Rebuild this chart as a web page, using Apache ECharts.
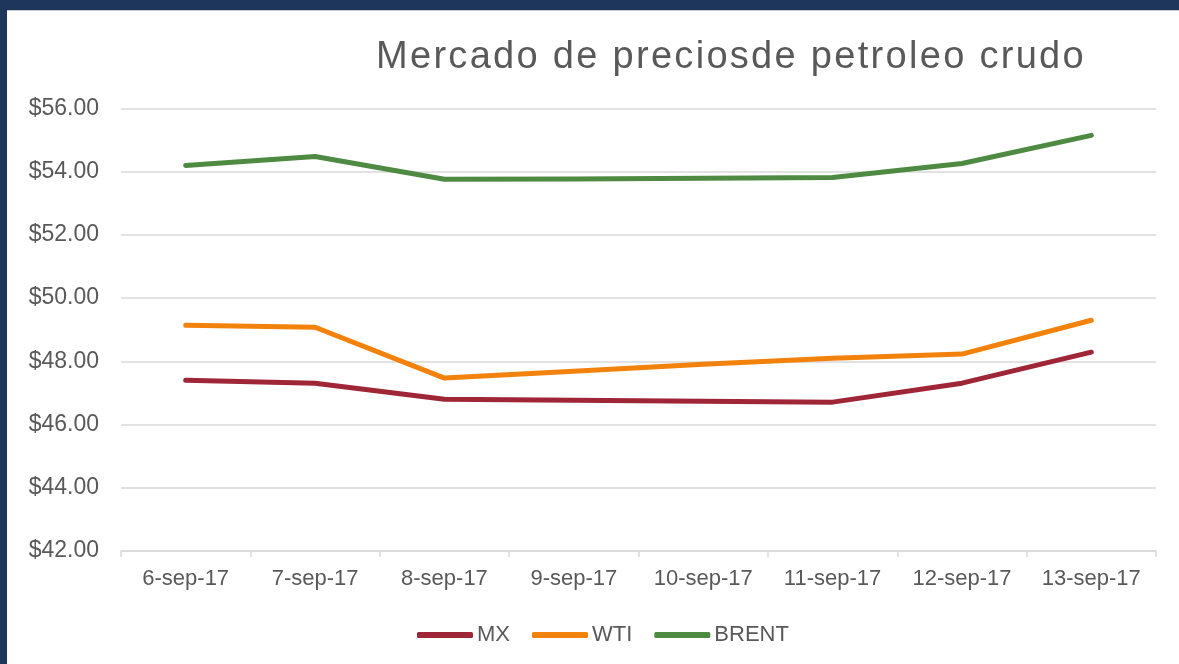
<!DOCTYPE html>
<html>
<head>
<meta charset="utf-8">
<script src="https://cdn.jsdelivr.net/npm/echarts@6/dist/echarts.min.js"></script>
<style>
  html, body { margin: 0; padding: 0; }
  body { width: 1179px; height: 664px; background: #1f365c; position: relative; overflow: hidden; }
  #wrap { position: absolute; left: 7px; top: 10px; width: 1172px; height: 654px; background: #fff; border-top: 1px solid #c9ccd3; box-sizing: border-box; }
  #chart { position: absolute; left: 0; top: -1px; width: 1172px; height: 654px; }
  #title { position: absolute; left: 0; right: 0; top: 23px; text-align: center; padding-left: 276px;
           font-family: "Liberation Sans", Arial, sans-serif; font-size: 38px; letter-spacing: 2.3px; color: #595959; z-index: 2; pointer-events: none; white-space: nowrap; }
</style>
</head>
<body>
<div id="wrap">
  <div id="title">Mercado de preciosde petroleo crudo</div>
  <div id="chart"></div>
</div>
<script>
// datos
var fechas = ['6-sep-17', '7-sep-17', '8-sep-17', '9-sep-17', '10-sep-17', '11-sep-17', '12-sep-17', '13-sep-17'];
var mx    = [47.40, 47.31, 46.80, 46.77, 46.74, 46.71, 47.31, 48.29];
var wti   = [49.14, 49.08, 47.47, 47.69, 47.91, 48.10, 48.23, 49.30];
var brent = [54.20, 54.48, 53.76, 53.77, 53.79, 53.82, 54.26, 55.15];

var chart = echarts.init(document.getElementById('chart'));

var linea = function(nombre, datos, color){
    return {
        name: nombre,
        type: 'line',
        data: datos,
        symbol: 'none',
        smooth: false,
        lineStyle: { color: color, width: 5, cap: 'round', join: 'round' },
        itemStyle: { color: color }
    };
};

var option = {
    backgroundColor: 'transparent',
    textStyle: { fontFamily: '"Liberation Sans", Arial, sans-serif' },
    grid: { left: 114, right: 23, top: 98.5, bottom: 113, containLabel: false },
    legend: {
        data: ['MX', 'WTI', 'BRENT'],
        top: 609,
        left: 405,
        icon: 'roundRect',
        itemWidth: 56,
        itemHeight: 6,
        itemGap: 22,
        textStyle: { color: '#595959', fontSize: 22, padding: [0, 0, 0, -1] }
    },
    xAxis: {
        type: 'category',
        data: fechas,
        boundaryGap: true,
        axisLine: { lineStyle: { color: '#d9d9d9', width: 1.5 } },
        axisTick: { show: true, length: 6, lineStyle: { color: '#d9d9d9', width: 1.5 } },
        axisLabel: { color: '#595959', fontSize: 22, margin: 17 }
    },
    yAxis: {
        type: 'value',
        min: 42,
        max: 56,
        interval: 2,
        axisLine: { show: false },
        axisTick: { show: false },
        splitLine: { lineStyle: { color: '#d9d9d9', width: 1.5 } },
        axisLabel: {
            color: '#595959',
            fontSize: 23,
            margin: 22,
            formatter: function(v){ return '$' + v.toFixed(2); }
        }
    },
    series: [
        linea('MX', mx, '#9f2637'),
        linea('WTI', wti, '#f2820c'),
        linea('BRENT', brent, '#4f8a43')
    ]
};

chart.setOption(option);
</script>
</body>
</html>
